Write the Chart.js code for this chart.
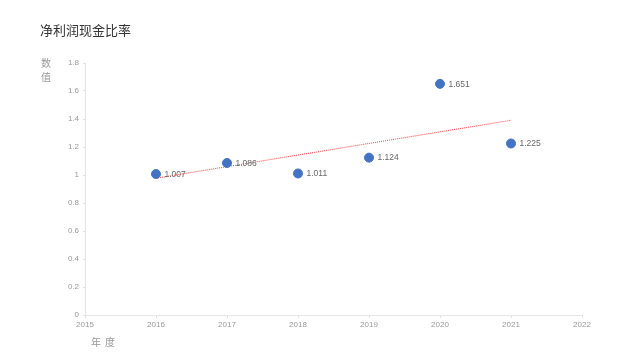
<!DOCTYPE html>
<html>
<head>
<meta charset="utf-8">
<script src="https://cdn.jsdelivr.net/npm/chart.js@4/dist/chart.umd.min.js"></script>
<style>
  html,body{margin:0;padding:0;background:#fff;}
  #wrap{position:relative;width:640px;height:360px;font-family:"Noto Sans CJK SC","Noto Sans",sans-serif;}
  canvas{position:absolute;left:0;top:0;}
  .t{position:absolute;white-space:nowrap;}
</style>
</head>
<body>
<div id="wrap">
  <canvas id="c" width="640" height="360"></canvas>
  <div class="t" style="left:40px;top:20px;font-size:13px;color:#333;">净利润现金比率</div>
  <div class="t" style="left:41px;top:56px;font-size:10px;color:#999;line-height:14px;">数<br>值</div>
  <div class="t" style="left:91px;top:334px;font-size:10px;color:#999;letter-spacing:4px;">年度</div>
</div>
<script>
const years = [2016, 2017, 2018, 2019, 2020, 2021];
const values = [1.007, 1.086, 1.011, 1.124, 1.651, 1.225];
const trendYears = [2016, 2021];
const trendValues = [0.977, 1.391];
const xTickMin = 2015, xTickMax = 2022;
const yTickMin = 0, yTickMax = 1.8, yStep = 0.2;

const labelPlugin = {
  id: 'pointLabels',
  afterDatasetsDraw(chart) {
    const ctx = chart.ctx;
    const meta = chart.getDatasetMeta(0);
    ctx.save();
    ctx.font = '8.5px "Liberation Sans", Arial, sans-serif';
    ctx.fillStyle = '#666';
    ctx.textAlign = 'left';
    ctx.textBaseline = 'middle';
    meta.data.forEach((pt, i) => {
      ctx.fillText(values[i].toFixed(3), pt.x + 8.5, pt.y + 0.5);
    });
    ctx.restore();
  }
};

new Chart(document.getElementById('c'), {
  type: 'scatter',
  data: {
    datasets: [
      {
        data: years.map((y, i) => ({x: y, y: values[i]})),
        backgroundColor: '#4472C4',
        borderColor: '#4472C4',
        pointRadius: 4.5,
        pointHoverRadius: 4.5,
        showLine: false
      },
      {
        data: trendYears.map((y, i) => ({x: y, y: trendValues[i]})),
        showLine: true,
        borderColor: '#FF4D4D',
        borderWidth: 1.1,
        borderDash: [1, 1],
        pointRadius: 0,
        fill: false
      }
    ]
  },
  options: {
    responsive: false,
    animation: false,
    layout: {padding: {left: 0, right: 58, top: 63, bottom: 0}},
    plugins: {legend: {display: false}, tooltip: {enabled: false}},
    scales: {
      x: {
        type: 'linear',
        min: xTickMin, max: xTickMax,
        afterFit(s) { s.height = 45; },
        ticks: {
          stepSize: 1,
          color: '#999',
          font: {size: 8, family: '"Liberation Sans", Arial, sans-serif'},
          padding: 2,
          callback: v => String(v)
        },
        grid: {drawOnChartArea: false, drawTicks: true, tickLength: 3, color: '#e0e0e0'},
        border: {color: '#e6e6e6'}
      },
      y: {
        min: yTickMin, max: yTickMax,
        afterFit(s) { s.width = 85; },
        ticks: {
          stepSize: yStep,
          color: '#999',
          font: {size: 8, family: '"Liberation Sans", Arial, sans-serif'},
          padding: 4,
          callback: v => String(Math.round(v * 10) / 10)
        },
        grid: {drawOnChartArea: false, drawTicks: true, tickLength: 2, color: '#e0e0e0'},
        border: {color: '#e6e6e6'}
      }
    }
  },
  plugins: [labelPlugin]
});
</script>
</body>
</html>
